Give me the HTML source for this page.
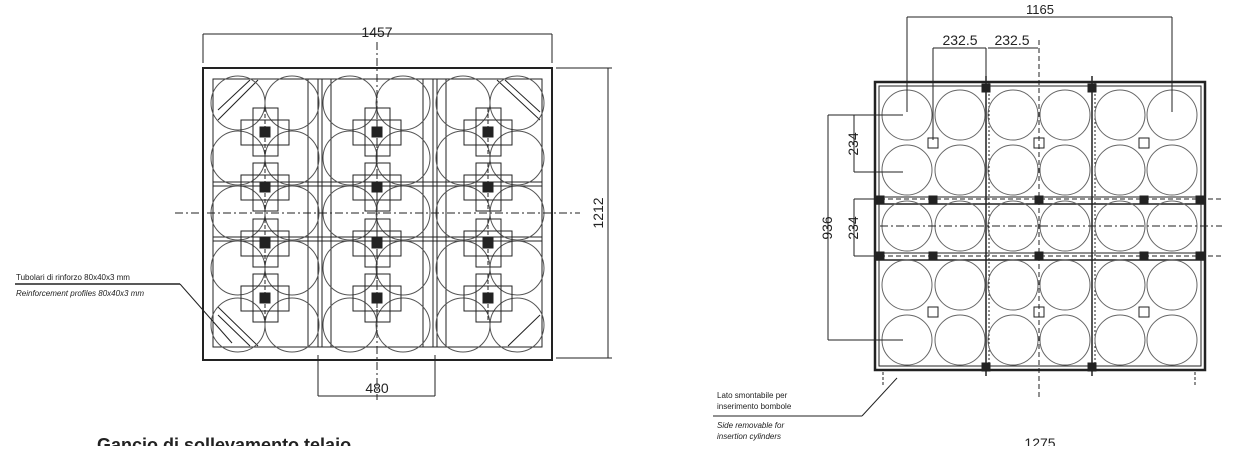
<!DOCTYPE html>
<html><head><meta charset="utf-8"><style>
html,body{margin:0;padding:0;background:#fff;width:1250px;height:470px;overflow:hidden}
svg{position:absolute;left:0;top:0}
text{font-family:"Liberation Sans",sans-serif;fill:#222}
</style></head><body>
<svg id="s" width="1250" height="470" viewBox="0 0 1250 470" stroke="#222" fill="none" stroke-width="1">
<defs><clipPath id="cl"><rect x="0" y="0" width="1250" height="446"/></clipPath></defs>
<!-- LEFT -->
<rect x="203" y="68" width="349" height="292" stroke-width="2"/>
<rect x="213" y="79" width="329" height="268"/>
<line x1="318" y1="79" x2="318" y2="347"/><line x1="322" y1="79" x2="322" y2="347"/>
<line x1="433" y1="79" x2="433" y2="347"/><line x1="437" y1="79" x2="437" y2="347"/>
<line x1="213" y1="182" x2="542" y2="182"/><line x1="213" y1="186" x2="542" y2="186"/>
<line x1="213" y1="237" x2="542" y2="237"/><line x1="213" y1="241" x2="542" y2="241"/>
<line x1="308" y1="79" x2="308" y2="347"/><line x1="331" y1="79" x2="331" y2="347"/>
<line x1="423" y1="79" x2="423" y2="347"/><line x1="446" y1="79" x2="446" y2="347"/>
<line x1="218" y1="110" x2="250" y2="80"/><line x1="218" y1="120" x2="258" y2="80"/>
<line x1="505" y1="80" x2="540" y2="112"/><line x1="497" y1="80" x2="540" y2="120"/>
<line x1="218" y1="315" x2="250" y2="346"/><line x1="218" y1="307" x2="258" y2="346"/>
<line x1="540" y1="315" x2="508" y2="346"/>
<g id="lc" stroke="#555"></g>
<g id="lx"></g>
<!-- left dims -->
<line x1="203" y1="34" x2="552" y2="34"/><line x1="203" y1="34" x2="203" y2="63"/><line x1="552" y1="34" x2="552" y2="63"/>
<text x="377" y="37" font-size="14" text-anchor="middle" stroke="none">1457</text>
<line x1="556" y1="68" x2="612" y2="68"/><line x1="556" y1="358" x2="612" y2="358"/><line x1="608" y1="68" x2="608" y2="358"/>
<text transform="translate(603,213) rotate(-90)" font-size="14" text-anchor="middle" stroke="none">1212</text>
<line x1="318" y1="355" x2="318" y2="396"/><line x1="435" y1="355" x2="435" y2="396"/><line x1="318" y1="396" x2="435" y2="396"/>
<text x="377" y="393" font-size="14" text-anchor="middle" stroke="none">480</text>
<line x1="377" y1="42" x2="377" y2="400" stroke-dasharray="8,3,2,3"/>
<line x1="175" y1="213" x2="580" y2="213" stroke-dasharray="8,3,2,3"/>
<line x1="15" y1="284" x2="180" y2="284" stroke-width="1.5"/><line x1="180" y1="284" x2="232" y2="343"/>
<text x="16" y="280" font-size="8" stroke="none">Tubolari di rinforzo 80x40x3 mm</text>
<text x="16" y="296" font-size="8" font-style="italic" stroke="none">Reinforcement profiles 80x40x3 mm</text>
<g clip-path="url(#cl)"><text x="97" y="451" font-size="18" font-weight="bold" stroke="none">Gancio di sollevamento telaio</text>
<text x="1040" y="448" font-size="14" text-anchor="middle" stroke="none">1275</text></g>
<!-- RIGHT -->
<rect x="875" y="82" width="330" height="288" stroke-width="2.5"/>
<rect x="879" y="86" width="322" height="280"/>
<line x1="986" y1="76" x2="986" y2="376" stroke-width="1.5"/><line x1="989" y1="82" x2="989" y2="370" stroke-dasharray="2,2"/>
<line x1="1092" y1="76" x2="1092" y2="376" stroke-width="1.5"/><line x1="1095" y1="82" x2="1095" y2="370" stroke-dasharray="2,2"/>
<line x1="875" y1="197" x2="1205" y2="197"/><line x1="875" y1="204" x2="1205" y2="204" stroke-width="1.5"/>
<line x1="875" y1="253" x2="1205" y2="253"/><line x1="875" y1="260" x2="1205" y2="260" stroke-width="1.5"/>
<g id="rc" stroke="#666"></g>
<g id="rx"></g>
<line x1="907" y1="17" x2="1172" y2="17"/><line x1="907" y1="17" x2="907" y2="112"/><line x1="1172" y1="17" x2="1172" y2="112"/>
<text x="1040" y="14" font-size="13" text-anchor="middle" stroke="none">1165</text>
<line x1="933" y1="48" x2="986" y2="48"/><line x1="988" y1="48" x2="1038" y2="48"/><line x1="933" y1="48" x2="933" y2="140"/>
<line x1="986" y1="48" x2="986" y2="76"/><line x1="1039" y1="40" x2="1039" y2="400" stroke-dasharray="5,3"/>
<text x="960" y="45" font-size="14" text-anchor="middle" stroke="none">232.5</text>
<text x="1012" y="45" font-size="14" text-anchor="middle" stroke="none">232.5</text>
<line x1="828" y1="115" x2="828" y2="340"/><line x1="828" y1="115" x2="903" y2="115"/><line x1="828" y1="340" x2="903" y2="340"/>
<text transform="translate(832,228) rotate(-90)" font-size="14" text-anchor="middle" stroke="none">936</text>
<line x1="854" y1="115" x2="854" y2="172"/><line x1="854" y1="172" x2="903" y2="172"/>
<text transform="translate(858,144) rotate(-90)" font-size="14" text-anchor="middle" stroke="none">234</text>
<line x1="854" y1="199" x2="854" y2="256"/><line x1="854" y1="199" x2="880" y2="199"/><line x1="854" y1="256" x2="880" y2="256"/>
<text transform="translate(858,228) rotate(-90)" font-size="14" text-anchor="middle" stroke="none">234</text>
<line x1="880" y1="199" x2="1222" y2="199" stroke-dasharray="5,3"/>
<line x1="880" y1="226" x2="1222" y2="226" stroke-dasharray="8,3,2,3"/>
<line x1="880" y1="256" x2="1222" y2="256" stroke-dasharray="5,3"/>
<line x1="883" y1="372" x2="883" y2="385" stroke-dasharray="3,2"/><line x1="1195" y1="372" x2="1195" y2="385" stroke-dasharray="3,2"/>
<line x1="713" y1="416" x2="862" y2="416"/><line x1="862" y1="416" x2="897" y2="378"/>
<text x="717" y="398" font-size="8" stroke="none">Lato smontabile per</text>
<text x="717" y="409" font-size="8" stroke="none">inserimento bombole</text>
<text x="717" y="428" font-size="8" font-style="italic" stroke="none">Side removable for</text>
<text x="717" y="439" font-size="8" font-style="italic" stroke="none">insertion cylinders</text>
</svg>
<script>
var N="http://www.w3.org/2000/svg";
function el(g,t,a){var e=document.createElementNS(N,t);for(var k in a)e.setAttribute(k,a[k]);document.getElementById(g).appendChild(e);}
[238,292,350,403,463,517].forEach(function(x){[103,158,213,268,325].forEach(function(y){el("lc","circle",{cx:x,cy:y,r:27});});});
[265,377,488].forEach(function(x){[132,187,243,298].forEach(function(y){
el("lx","rect",{x:x-12,y:y-24,width:25,height:48});
el("lx","rect",{x:x-24,y:y-12,width:48,height:25});
el("lx","line",{x1:x,y1:y-24,x2:x,y2:y+24,"stroke-dasharray":"4,2"});
el("lx","rect",{x:x-5,y:y-5,width:10,height:10,fill:"#222"});});});
[907,960,1013,1065,1120,1172].forEach(function(x){[115,170,226,285,340].forEach(function(y){el("rc","circle",{cx:x,cy:y,r:25});});});
[933,1039,1144].forEach(function(x){[143,312].forEach(function(y){el("rx","rect",{x:x-5,y:y-5,width:10,height:10});});});
[880,933,1039,1144,1200].forEach(function(x){[200,256].forEach(function(y){el("rx","rect",{x:x-4,y:y-4,width:8,height:8,fill:"#222"});});});
[986,1092].forEach(function(x){[88,367].forEach(function(y){el("rx","rect",{x:x-4,y:y-4,width:8,height:8,fill:"#222"});});});
</script>
</body></html>
